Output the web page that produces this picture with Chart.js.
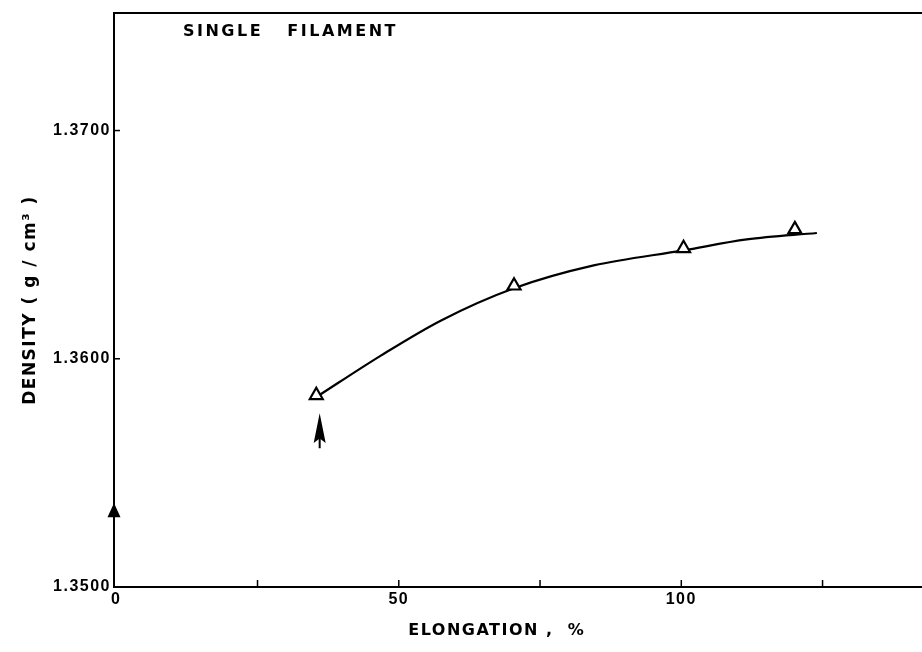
<!DOCTYPE html>
<html><head><meta charset="utf-8">
<script src="https://cdn.jsdelivr.net/npm/chart.js@4.4.0/dist/chart.umd.min.js"></script>
<style>html,body{margin:0;padding:0;background:#fff}#wrap{width:922px;height:652px}</style>
</head><body><div id="wrap"><canvas id="c" width="922" height="652"></canvas></div>
<script>
// ---- data ----
const markerX = [35.4, 70.4, 100.4, 120.1];
const markerY = [1.3584, 1.3632, 1.36484, 1.36567];
const curveX = [35.4, 46.9, 57.5, 70.4, 84.5, 100.4, 111.6, 124.0];
const curveY = [1.35832, 1.36015, 1.36168, 1.36309, 1.36409, 1.36475, 1.36523, 1.36551];
const xTicks = [0, 25, 50, 75, 100, 125];
const xLabels = ['0', '', '50', '', '100', ''];
const yTicks = [1.35, 1.36, 1.37];
const yLabels = ['1.3500', '1.3600', '1.3700'];
const arrowX = [-0.4, 36.0];
const arrowTipY = [1.35368, 1.35761];
const arrowTailY = [1.35306, 1.35608];
const panelLabel = 'SINGLE   FILAMENT';

const FONT = "'Liberation Sans', Arial, Helvetica, sans-serif";
const HEAVY = "'DejaVu Sans', 'Liberation Sans', Arial, sans-serif";

const extras = {
  id: 'extras',
  beforeDraw(chart) { chart.ctx.letterSpacing = '1.5px'; },
  afterDraw(chart) {
    const ctx = chart.ctx, xs = chart.scales.x, ys = chart.scales.y, a = chart.chartArea;
    ctx.save();
    ctx.strokeStyle = '#000'; ctx.fillStyle = '#000'; ctx.lineWidth = 2;
    // top frame line
    ctx.beginPath(); ctx.moveTo(a.left - 1, a.top); ctx.lineTo(a.right, a.top); ctx.stroke();
    // inward ticks
    ctx.lineWidth = 1.5;
    xTicks.forEach(v => { if (v === 0) return; const px = xs.getPixelForValue(v);
      ctx.beginPath(); ctx.moveTo(px, a.bottom); ctx.lineTo(px, a.bottom - 7); ctx.stroke(); });
    yTicks.forEach(v => { if (v === yTicks[0]) return; const py = ys.getPixelForValue(v);
      ctx.beginPath(); ctx.moveTo(a.left, py); ctx.lineTo(a.left + 6, py); ctx.stroke(); });
    // arrow 1: filled head on the y axis
    {
      const px = xs.getPixelForValue(arrowX[0]);
      const tip = ys.getPixelForValue(arrowTipY[0]), base = ys.getPixelForValue(arrowTailY[0]);
      ctx.beginPath(); ctx.moveTo(px, tip); ctx.lineTo(px - 6.5, base); ctx.lineTo(px + 6.5, base); ctx.closePath(); ctx.fill();
    }
    // arrow 2: narrow barbed head with short shaft
    {
      const px = xs.getPixelForValue(arrowX[1]);
      const tip = ys.getPixelForValue(arrowTipY[1]), tail = ys.getPixelForValue(arrowTailY[1]);
      const len = tail - tip;
      ctx.beginPath(); ctx.moveTo(px, tip); ctx.lineTo(px - 6, tip + len * 0.85); ctx.lineTo(px, tip + len * 0.72);
      ctx.lineTo(px + 6, tip + len * 0.85); ctx.closePath(); ctx.fill();
      ctx.lineWidth = 2; ctx.beginPath(); ctx.moveTo(px, tip + len * 0.5); ctx.lineTo(px, tail); ctx.stroke();
    }
    // panel label
    ctx.font = "bold 16px " + HEAVY; ctx.textBaseline = 'middle'; ctx.textAlign = 'left';
    ctx.letterSpacing = '2.5px';
    ctx.fillText(panelLabel, a.left + 69, a.top + 19);
    ctx.restore();
    chart.ctx.letterSpacing = '0px';
  }
};

new Chart(document.getElementById('c'), {
  type: 'scatter',
  data: {
    datasets: [
      { label: 'curve', data: curveX.map((x, i) => ({ x, y: curveY[i] })), showLine: true,
        pointRadius: 0, borderColor: '#000', borderWidth: 2.2, cubicInterpolationMode: 'monotone', order: 2 },
      { label: 'single filament', data: markerX.map((x, i) => ({ x, y: markerY[i] })), showLine: false,
        pointStyle: 'triangle', pointRadius: 7.5, borderWidth: 2.2, borderColor: '#000',
        backgroundColor: '#fff', order: 1 }
    ]
  },
  options: {
    responsive: false, animation: false, devicePixelRatio: 1,
    layout: { autoPadding: false, padding: { top: 13, right: 0, left: 0, bottom: 0 } },
    plugins: { legend: { display: false }, tooltip: { enabled: false } },
    scales: {
      x: {
        type: 'linear', min: -0.4, max: 142.6,
        afterBuildTicks: s => { s.ticks = xTicks.map(v => ({ value: v })); },
        afterFit: s => { s.height = 65; s.paddingLeft = 0; s.paddingRight = 0; },
        ticks: { callback: v => { const i = xTicks.indexOf(v); return i >= 0 ? xLabels[i] : ''; },
          autoSkip: false, maxRotation: 0, color: '#000', padding: 3,
          font: { family: FONT, size: 16, weight: 'bold' } },
        grid: { drawOnChartArea: false, drawTicks: false, color: 'rgba(0,0,0,0)' },
        border: { display: true, color: '#000', width: 2 },
        title: { display: true, text: 'ELONGATION ,  %      ', color: '#000',
          font: { family: HEAVY, size: 16, weight: 'bold' }, padding: { top: 0, bottom: 12 } }
      },
      y: {
        type: 'linear', min: 1.35, max: 1.37515,
        afterBuildTicks: s => { s.ticks = yTicks.map(v => ({ value: v })); },
        afterFit: s => { s.width = 114; s.paddingTop = 0; s.paddingBottom = 0; },
        ticks: { callback: v => { const i = yTicks.findIndex(t => Math.abs(t - v) < 1e-9); return i >= 0 ? yLabels[i] : ''; },
          autoSkip: false, color: '#000', padding: 3, font: { family: FONT, size: 16, weight: 'bold' } },
        grid: { drawOnChartArea: false, drawTicks: false, color: 'rgba(0,0,0,0)' },
        border: { display: true, color: '#000', width: 2 },
        title: { display: true, text: 'DENSITY ( g / cm³ )', color: '#000',
          font: { family: HEAVY, size: 17, weight: 'bold' }, padding: { top: 20, bottom: 0 } }
      }
    }
  },
  plugins: [extras]
});
</script>
</body></html>
